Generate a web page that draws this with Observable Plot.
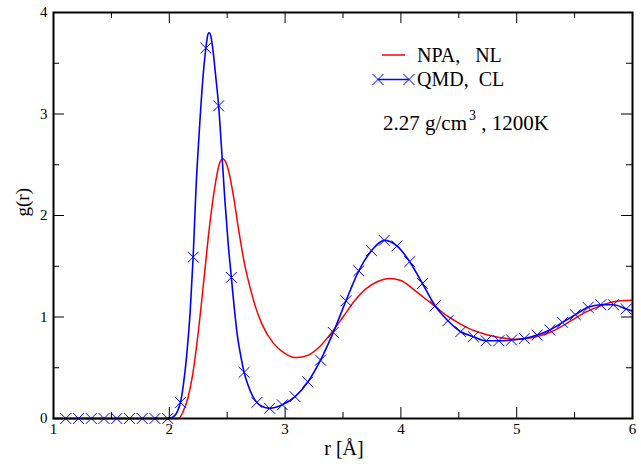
<!DOCTYPE html>
<html><head><meta charset="utf-8">
<script src="https://cdn.jsdelivr.net/npm/d3@7"></script>
<script src="https://cdn.jsdelivr.net/npm/@observablehq/plot@0.6"></script>
<style>html,body{margin:0;padding:0;background:#fff;}</style>
</head><body><div id="chart"></div>
<script>
// NPA, NL (red line)
const npaR = [1.0, 2.0, 2.08, 2.12, 2.16, 2.2, 2.25, 2.3, 2.35, 2.4, 2.43, 2.46, 2.49, 2.52, 2.56, 2.6, 2.65, 2.7, 2.75, 2.8, 2.9, 3.0, 3.1, 3.2, 3.3, 3.4, 3.5, 3.6, 3.7, 3.8, 3.9, 4.0, 4.1, 4.2, 4.3, 4.4, 4.5, 4.6, 4.7, 4.8, 4.9, 5.0, 5.1, 5.2, 5.3, 5.4, 5.5, 5.6, 5.7, 5.8, 5.9, 6.0];
const npaG = [0, 0, 0, 0.07, 0.2, 0.42, 0.85, 1.38, 1.92, 2.33, 2.5, 2.56, 2.52, 2.4, 2.15, 1.85, 1.52, 1.28, 1.08, 0.93, 0.74, 0.64, 0.60, 0.625, 0.71, 0.845, 1.0, 1.16, 1.28, 1.35, 1.38, 1.36, 1.28, 1.19, 1.10, 1.01, 0.94, 0.88, 0.84, 0.81, 0.79, 0.78, 0.79, 0.815, 0.855, 0.915, 0.985, 1.05, 1.10, 1.14, 1.16, 1.165];

// QMD, CL fine line in the first-peak region
const qmdLineR = [1.0, 2.0, 2.04, 2.07, 2.096, 2.12, 2.15, 2.18, 2.206, 2.23, 2.26, 2.29, 2.316, 2.335, 2.345, 2.36, 2.38, 2.40, 2.426, 2.45, 2.48, 2.51, 2.536, 2.56, 2.59, 2.62, 2.646, 2.68, 2.72, 2.756, 2.8, 2.866, 2.92, 2.976];
const qmdLineG = [0, 0, 0.02, 0.07, 0.158, 0.32, 0.62, 1.05, 1.59, 2.25, 2.85, 3.35, 3.65, 3.79, 3.80, 3.76, 3.6, 3.38, 3.08, 2.68, 2.15, 1.7, 1.39, 1.1, 0.8, 0.6, 0.455, 0.33, 0.22, 0.158, 0.12, 0.10, 0.11, 0.135];

// QMD, CL sampled points (x markers)
const qmdMarkR = [1.106, 1.216, 1.326, 1.436, 1.546, 1.656, 1.766, 1.876, 1.986, 2.096, 2.206, 2.316, 2.426, 2.536, 2.646, 2.756, 2.866, 2.976, 3.086, 3.196, 3.306, 3.416, 3.526, 3.636, 3.746, 3.856, 3.966, 4.076, 4.186, 4.296, 4.406, 4.516, 4.626, 4.736, 4.846, 4.956, 5.066, 5.176, 5.286, 5.396, 5.506, 5.616, 5.726, 5.836, 5.946];
const qmdMarkG = [0, 0, 0, 0, 0, 0, 0, 0, 0, 0.158, 1.59, 3.65, 3.08, 1.39, 0.455, 0.158, 0.10, 0.135, 0.215, 0.36, 0.575, 0.848, 1.16, 1.455, 1.654, 1.755, 1.70, 1.545, 1.33, 1.11, 0.963, 0.855, 0.806, 0.766, 0.766, 0.773, 0.789, 0.822, 0.872, 0.947, 1.023, 1.095, 1.121, 1.121, 1.079];
const qmdLineEndG = 1.06; // value at r = 6

const xMajor = [1, 2, 3, 4, 5, 6];
const xMinor = [1.5, 2.5, 3.5, 4.5, 5.5];
const yMajor = [0, 1, 2, 3, 4];
const yMinor = [0.5, 1.5, 2.5, 3.5];

const legendLabels = ["NPA,   NL", "QMD,  CL"];
const noteMain = "2.27 g/cm", noteSup = "3", noteTail = " , 1200K";

const npa = npaR.map((r, i) => ({r, g: npaG[i]}));
const qmdMarks = qmdMarkR.map((r, i) => ({r, g: qmdMarkG[i]}));
const qmdLine = qmdLineR.map((r, i) => ({r, g: qmdLineG[i]}))
  .concat(qmdMarks.filter(d => d.r > 3.0))
  .concat([{r: 6, g: qmdLineEndG}]);

const font = "'Liberation Serif', 'Times New Roman', Times, 'DejaVu Serif', serif";
const W = 641, H = 467, mL = 53, mR = 9, mT = 12, mB = 49;
const innerH = H - mT - mB, innerW = W - mL - mR;
const major = 11, minor = 6;

const legend = (index, scales, values, dims) => {
  const g = d3.create("svg:g")
    .attr("font-family", font).attr("font-size", 20).attr("fill", "black")
    .attr("text-anchor", "start")
    .style("white-space", "pre");
  g.append("line").attr("x1", 382).attr("x2", 405).attr("y1", 55).attr("y2", 55)
    .attr("stroke", "#ff0000").attr("stroke-width", 1.5);
  g.append("line").attr("x1", 378).attr("x2", 409).attr("y1", 79.5).attr("y2", 79.5)
    .attr("stroke", "#0000ff").attr("stroke-width", 1.5);
  const sym = d3.symbol(d3.symbolTimes, 81)();
  [378, 409].forEach(x => g.append("path").attr("d", sym)
    .attr("transform", `translate(${x},79.5)`).attr("stroke", "#0000ff").attr("fill", "none").attr("stroke-width", 1));
  g.append("text").attr("x", 417).attr("y", 62).text(legendLabels[0]);
  g.append("text").attr("x", 417).attr("y", 86).text(legendLabels[1]);
  const t = g.append("text").attr("x", 383).attr("y", 129.5).attr("font-size", 21);
  t.append("tspan").text(noteMain);
  t.append("tspan").attr("font-size", 14).attr("dy", -10).attr("dx", 2).text(noteSup);
  t.append("tspan").attr("dy", 10).text(noteTail);
  return g.node();
};

const chart = Plot.plot({
  width: W, height: H,
  marginLeft: mL, marginRight: mR, marginTop: mT, marginBottom: mB,
  style: {fontFamily: font, fontSize: "15px", background: "white", color: "black"},
  x: {domain: [1, 6], ticks: [], label: null},
  y: {domain: [0, 4], ticks: [], label: null},
  marks: [
    Plot.line(npa, {x: "r", y: "g", stroke: "#ff0000", strokeWidth: 1.5, curve: "monotone-x"}),
    Plot.line(qmdLine, {x: "r", y: "g", stroke: "#0000ff", strokeWidth: 1.6, curve: "monotone-x"}),
    Plot.dot(qmdMarks, {x: "r", y: "g", symbol: "times", r: 5, stroke: "#0000ff", strokeWidth: 1}),
    // inward ticks on all four sides
    Plot.tickX(xMajor, {x: d => d, insetTop: innerH - major, stroke: "black"}),
    Plot.tickX(xMinor, {x: d => d, insetTop: innerH - minor, stroke: "black"}),
    Plot.tickX(xMajor, {x: d => d, insetBottom: innerH - major, stroke: "black"}),
    Plot.tickX(xMinor, {x: d => d, insetBottom: innerH - minor, stroke: "black"}),
    Plot.tickY(yMajor, {y: d => d, insetRight: innerW - major, stroke: "black"}),
    Plot.tickY(yMinor, {y: d => d, insetRight: innerW - minor, stroke: "black"}),
    Plot.tickY(yMajor, {y: d => d, insetLeft: innerW - major, stroke: "black"}),
    Plot.tickY(yMinor, {y: d => d, insetLeft: innerW - minor, stroke: "black"}),
    Plot.frame({stroke: "black", strokeWidth: 2}),
    Plot.axisX({ticks: xMajor, tickSize: 0, tickPadding: 5, tickFormat: d => String(d), fontSize: 15, fontFamily: font, label: null}),
    Plot.axisY({ticks: yMajor, tickSize: 0, tickPadding: 6, tickFormat: d => String(d), fontSize: 15, fontFamily: font, label: null}),
    Plot.text(["r [Å]"], {frameAnchor: "bottom", dy: 36, dx: 1, fontSize: 20, fontFamily: font}),
    Plot.text(["g(r)"], {frameAnchor: "left", rotate: -90, dx: -31, dy: 1, fontSize: 19, fontFamily: font}),
    legend
  ]
});
document.getElementById("chart").appendChild(chart);
</script>
</body></html>
